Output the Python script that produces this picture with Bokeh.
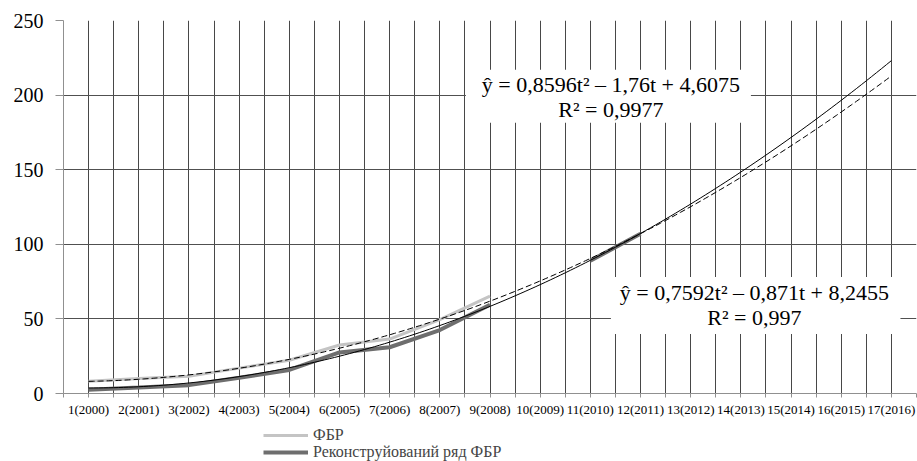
import numpy as np
from bokeh.plotting import figure
from bokeh.layouts import column
from bokeh.models import FixedTicker, Legend, LegendItem, BoxAnnotation, Label
from bokeh.embed import file_html
from bokeh.resources import INLINE

# ---- data ----
T = list(range(1, 18))
TICK_LABELS = ["1(2000)", "2(2001)", "3(2002)", "4(2003)", "5(2004)", "6(2005)",
               "7(2006)", "8(2007)", "9(2008)", "10(2009)", "11(2010)", "12(2011)",
               "13(2012)", "14(2013)", "15(2014)", "16(2015)", "17(2016)"]
FBR_T = [1, 2, 3, 4, 5, 6, 7, 8, 9]
FBR = [8.2, 10.0, 11.6, 17.0, 22.3, 32.5, 36.5, 49.5, 65.3]
RECON_T = [1, 2, 3, 4, 5, 6, 7, 8, 9, 10, 11, 12]
RECON = [2.5, 4.0, 5.6, 10.5, 15.8, 27.5, 31.0, 42.5, 59.5, float("nan"), 89.0, 107.0]
TREND_RECON = [0.8596, -1.76, 4.6075]   # solid trend
TREND_FBR = [0.7592, -0.871, 8.2455]    # dashed trend
EQ1 = ["ŷ = 0,8596t² – 1,76t + 4,6075", "R² = 0,9977"]
EQ2 = ["ŷ = 0,7592t² – 0,871t + 8,2455", "R² = 0,997"]
LEGEND_LABELS = ["ФБР", "Реконструйований ряд ФБР"]
Y_TICKS = [0, 50, 100, 150, 200, 250]

SERIF = "Liberation Serif"
FBR_COLOR, FBR_WIDTH = "#c4c4c4", 3
REC_COLOR, REC_WIDTH = "#6e6e6e", 4

p = figure(width=917, height=425, x_range=(0.5, 17.5), y_range=(0, 250),
           output_backend="svg", toolbar_location=None,
           min_border_left=63, min_border_right=1, min_border_top=20, min_border_bottom=32)
p.outline_line_color = None
p.background_fill_color = "white"
p.border_fill_color = "white"

# grid
p.xgrid.ticker = FixedTicker(ticks=[0.5 + 0.5 * i for i in range(35)])
p.xgrid.grid_line_color = "#484848"
p.xgrid.grid_line_width = 1
p.ygrid.ticker = FixedTicker(ticks=Y_TICKS)
p.ygrid.grid_line_color = "#505050"
p.ygrid.grid_line_width = 1

# x axis
p.xaxis.ticker = FixedTicker(ticks=T, minor_ticks=[0.5 + i for i in range(18)])
p.xaxis.major_label_overrides = {t: lab for t, lab in zip(T, TICK_LABELS)}
p.xaxis.major_tick_out = 4
p.xaxis.major_tick_in = 0
p.xaxis.minor_tick_out = 4
p.xaxis.minor_tick_in = 0
p.xaxis.major_tick_line_color = "#909090"
p.xaxis.minor_tick_line_color = "#909090"
p.xaxis.axis_line_color = "#909090"
p.xaxis.major_label_text_font = SERIF
p.xaxis.major_label_text_font_size = "13px"
p.xaxis.major_label_text_color = "black"
p.xaxis.major_label_standoff = 4

# y axis
p.yaxis.ticker = FixedTicker(ticks=Y_TICKS)
p.yaxis.major_tick_out = 8
p.yaxis.major_tick_in = 0
p.yaxis.minor_tick_line_color = None
p.yaxis.major_tick_line_color = "#909090"
p.yaxis.axis_line_color = "#909090"
p.yaxis.major_label_text_font = SERIF
p.yaxis.major_label_text_font_size = "20px"
p.yaxis.major_label_text_color = "black"
p.yaxis.major_label_standoff = 12

# series
p.line(FBR_T, FBR, line_color=FBR_COLOR, line_width=FBR_WIDTH)
p.line(RECON_T, RECON, line_color=REC_COLOR, line_width=REC_WIDTH)

tt = np.linspace(1, 17, 161)
y_fbr_tr = TREND_FBR[0] * tt ** 2 + TREND_FBR[1] * tt + TREND_FBR[2]
y_rec_tr = TREND_RECON[0] * tt ** 2 + TREND_RECON[1] * tt + TREND_RECON[2]
p.line(tt, y_fbr_tr, line_color="black", line_width=1, line_dash="6 3")
p.line(tt, y_rec_tr, line_color="black", line_width=1)

# equation boxes
p.add_layout(BoxAnnotation(left=8.52, right=14.2, bottom=181.4, top=217.0,
                           fill_color="white", fill_alpha=1.0, line_color=None))
p.add_layout(BoxAnnotation(left=11.41, right=17.18, bottom=39.8, top=78.1,
                           fill_color="white", fill_alpha=1.0, line_color=None))

for txt, x, y in [(EQ1[0], 11.41, 206.9), (EQ1[1], 11.41, 190.1),
                  (EQ2[0], 14.27, 68.0), (EQ2[1], 14.27, 51.2)]:
    p.add_layout(Label(x=x, y=y, text=txt, text_align="center", text_baseline="middle",
                       text_font=SERIF, text_font_size="22px", text_color="black"))

# ---- legend strip below the chart (its frame is aligned with the chart frame) ----
lg = figure(width=917, height=36, x_range=(0, 1), y_range=(0, 1),
            output_backend="svg", toolbar_location=None,
            x_axis_location=None, y_axis_location=None,
            min_border=0, min_border_left=63, min_border_right=1,
            min_border_top=0, min_border_bottom=0)
lg.grid.visible = False
lg.outline_line_color = None
lg.border_fill_color = "white"
# sample renderers kept outside the visible range; only their legend glyphs show
g_fbr = lg.line(x=[5, 6], y=[5, 5], line_color=FBR_COLOR, line_width=FBR_WIDTH)
g_rec = lg.line(x=[5, 6], y=[5, 5], line_color=REC_COLOR, line_width=REC_WIDTH)

common = dict(orientation="vertical", glyph_width=45, glyph_height=14, label_height=14,
              spacing=0, padding=0, margin=0, label_standoff=5,
              label_text_font=SERIF, label_text_font_size="16px",
              border_line_color=None, background_fill_alpha=0)
lg.add_layout(Legend(items=[LegendItem(label=LEGEND_LABELS[0], renderers=[g_fbr])],
                     location=(200, 17), **common))
lg.add_layout(Legend(items=[LegendItem(label=LEGEND_LABELS[1], renderers=[g_rec])],
                     location=(200, 0), **common))

open("out.html", "w").write(file_html(column(p, lg, spacing=0), INLINE))
